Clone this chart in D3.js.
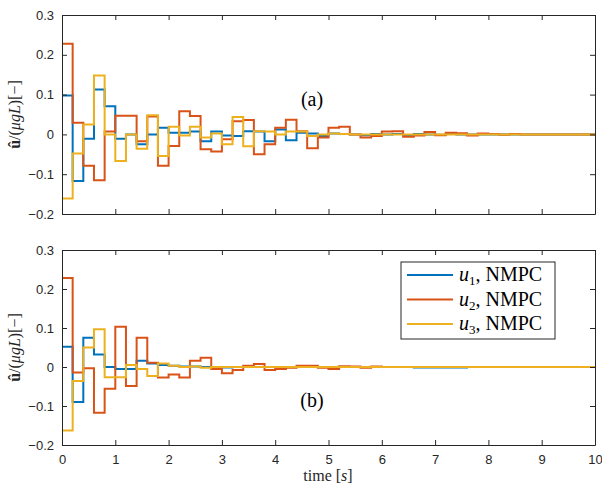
<!DOCTYPE html>
<html>
<head>
  <meta charset="utf-8">
  <title>NMPC inputs</title>
  <script src="https://d3js.org/d3.v7.min.js"></script>
  <style>
    body { margin: 0; background: #fff; }
    .tick text { font-family: "Liberation Sans", Arial, sans-serif; font-size: 13px; fill: #262626; }
    .tick line, .domain { stroke: #262626; }
  </style>
</head>
<body>
  <div id="chart"></div>

  <script>
    // sample time of the input signals (zero-order hold)
    var dt = 0.2;
    var xTicks = [0, 1, 2, 3, 4, 5, 6, 7, 8, 9, 10];
    var yTicks = [-0.2, -0.1, 0, 0.1, 0.2, 0.3];
    var seriesNames = ["1", "2", "3"];
    var colors = ["#0072BD", "#D95319", "#EDB120"];

    // panel (a)
    var u1a = [0.098, -0.117, -0.011, 0.113, 0.071, -0.011, 0.000, -0.025, 0.000, 0.017,
               0.004, 0.004, 0.007, -0.017, 0.007, -0.003, -0.004, 0.008, 0.007, -0.017,
               0.012, -0.015, 0.004, 0.002, -0.004, 0.002, 0.001, 0.000, -0.002, 0.001,
               0.000, 0.001, -0.002, 0.001, 0.000, -0.001, 0.001, 0.000, 0.000, 0.000,
               0.000, 0.000, 0.000, 0.000, 0.000, 0.000, 0.000, 0.000, 0.000, 0.000];
    var u2a = [0.228, 0.029, -0.079, -0.115, 0.007, 0.047, 0.047, -0.017, 0.045, -0.079,
               -0.029, 0.058, 0.046, -0.037, -0.043, -0.012, 0.033, 0.036, -0.050, -0.025,
               0.017, 0.037, 0.008, -0.035, -0.008, 0.017, 0.019, 0.000, -0.008, -0.004,
               0.007, 0.008, -0.006, -0.003, 0.006, -0.002, 0.004, 0.003, -0.003, 0.002,
               0.001, -0.001, 0.001, 0.000, 0.000, 0.000, 0.000, 0.000, 0.000, 0.000];
    var u3a = [-0.161, -0.048, 0.025, 0.148, 0.000, -0.067, 0.000, -0.036, 0.048, -0.054,
               0.019, -0.003, 0.019, -0.008, 0.002, -0.025, 0.044, -0.030, 0.008, 0.007,
               0.000, 0.007, 0.007, -0.004, 0.000, 0.002, 0.001, 0.000, 0.000, 0.000,
               0.000, 0.000, 0.000, 0.000, 0.000, 0.000, 0.000, 0.000, 0.000, 0.000,
               0.000, 0.000, 0.000, 0.000, 0.000, 0.000, 0.000, 0.000, 0.000, 0.000];

    // panel (b)
    var u1b = [0.052, -0.090, 0.075, 0.032, 0.000, -0.005, -0.005, 0.016, 0.009, 0.005,
               0.003, 0.001, 0.001, 0.000, 0.000, -0.001, 0.000, 0.000, 0.000, 0.000,
               0.000, 0.000, 0.000, 0.000, 0.000, 0.000, 0.000, 0.000, 0.000, 0.000,
               0.000, 0.000, 0.000, -0.001, -0.001, -0.001, -0.001, -0.001, 0.000, 0.000,
               0.000, 0.000, 0.000, 0.000, 0.000, 0.000, 0.000, 0.000, 0.000, 0.000];
    var u2b = [0.228, -0.014, -0.003, -0.117, -0.056, 0.103, -0.049, 0.075, 0.011, -0.027,
               -0.019, -0.027, 0.016, 0.024, -0.005, -0.016, -0.008, 0.003, 0.008, -0.008,
               -0.005, -0.002, 0.003, 0.003, -0.002, -0.005, 0.002, 0.001, -0.002, 0.001,
               0.000, 0.000, 0.000, 0.000, 0.000, 0.000, 0.000, 0.000, 0.000, 0.000,
               0.000, 0.000, 0.000, 0.000, 0.000, 0.000, 0.000, 0.000, 0.000, 0.000];
    var u3b = [-0.163, -0.036, 0.050, 0.097, -0.026, -0.026, 0.005, -0.005, -0.023, 0.009,
               0.003, 0.000, 0.001, -0.002, 0.000, 0.000, 0.000, 0.000, 0.000, 0.000,
               0.000, 0.000, 0.000, 0.000, 0.000, 0.000, 0.000, 0.000, 0.000, 0.000,
               0.000, 0.000, 0.000, 0.000, 0.000, 0.000, 0.000, 0.000, 0.000, 0.000,
               0.000, 0.000, 0.000, 0.000, 0.000, 0.000, 0.000, 0.000, 0.000, 0.000];

    var width = 602, height = 485;
    var serif = "'Liberation Serif', 'Times New Roman', serif";
    var svg = d3.select("#chart").append("svg")
      .attr("width", width).attr("height", height);

    var x = d3.scaleLinear().domain([0, 10]).range([62, 595]);

    function toPoints(vals) {
      var pts = vals.map(function(v, i) { return [i * dt, v]; });
      pts.push([10, vals[vals.length - 1]]);
      return pts;
    }

    function panel(top, bottom, series, showX, tag, tagY) {
      var y = d3.scaleLinear().domain([-0.2, 0.3]).range([bottom, top]);
      var g = svg.append("g");

      var line = d3.line()
        .x(function(d) { return x(d[0]); })
        .y(function(d) { return y(d[1]); })
        .curve(d3.curveStepAfter);

      g.selectAll(".series")
        .data(series)
        .enter()
        .append("path")
        .attr("d", function(d) { return line(toPoints(d)); })
        .attr("fill", "none")
        .attr("stroke", function(d, i) { return colors[i]; })
        .attr("stroke-width", 2);

      // axes, MATLAB style with inward ticks on all sides
      g.append("g").attr("transform", "translate(62,0)")
        .call(d3.axisLeft(y).tickValues(yTicks).tickSize(-5).tickSizeOuter(0).tickPadding(8)
          .tickFormat(function(d) { return d3.format("")(+d.toFixed(1)); }));
      g.append("g").attr("transform", "translate(595,0)")
        .call(d3.axisRight(y).tickValues(yTicks).tickSize(-5).tickSizeOuter(0).tickFormat(""));
      g.append("g").attr("transform", "translate(0," + top + ")")
        .call(d3.axisTop(x).tickValues(xTicks).tickSize(-5).tickSizeOuter(0).tickFormat(""));
      g.append("g").attr("transform", "translate(0," + bottom + ")")
        .call(d3.axisBottom(x).tickValues(xTicks).tickSize(-5).tickSizeOuter(0).tickPadding(10)
          .tickFormat(showX ? d3.format("d") : ""));

      // y label
      var lab = g.append("text")
        .attr("transform", "translate(20," + ((top + bottom) / 2) + ") rotate(-90)")
        .attr("text-anchor", "middle")
        .style("font-family", serif)
        .style("font-size", "16px")
        .style("fill", "#262626");
      lab.append("tspan").style("font-weight", "bold").text("\u00fb");
      lab.append("tspan").text("/(");
      lab.append("tspan").style("font-style", "italic").text("\u03bcgL");
      lab.append("tspan").text(")[\u2212]");

      g.append("text")
        .attr("x", 312).attr("y", tagY)
        .attr("text-anchor", "middle")
        .style("font-family", serif)
        .style("font-size", "20px")
        .style("fill", "#000")
        .text(tag);
    }

    panel(15, 214, [u1a, u2a, u3a], false, "(a)", 106);
    panel(250, 445, [u1b, u2b, u3b], true, "(b)", 407);

    // x label
    var xl = svg.append("text")
      .attr("x", 328).attr("y", 481)
      .attr("text-anchor", "middle")
      .style("font-family", serif)
      .style("font-size", "16px")
      .style("fill", "#262626");
    xl.append("tspan").text("time [");
    xl.append("tspan").style("font-style", "italic").text("s");
    xl.append("tspan").text("]");

    // legend
    var leg = svg.append("g");
    leg.append("rect")
      .attr("x", 401).attr("y", 262).attr("width", 154).attr("height", 77)
      .attr("fill", "#fff").attr("stroke", "#262626").attr("stroke-width", 1);
    seriesNames.forEach(function(n, i) {
      var ly = 275 + i * 24.5;
      leg.append("line")
        .attr("x1", 407).attr("x2", 453).attr("y1", ly).attr("y2", ly)
        .attr("stroke", colors[i]).attr("stroke-width", 2);
      var t = leg.append("text")
        .attr("x", 459).attr("y", ly + 6)
        .style("font-family", serif)
        .style("font-size", "20px")
        .style("fill", "#000");
      t.append("tspan").style("font-style", "italic").text("u");
      t.append("tspan").attr("dy", 4).style("font-size", "13px").text(n);
      t.append("tspan").attr("dy", -4).text(", NMPC");
    });
  </script>
</body>
</html>
